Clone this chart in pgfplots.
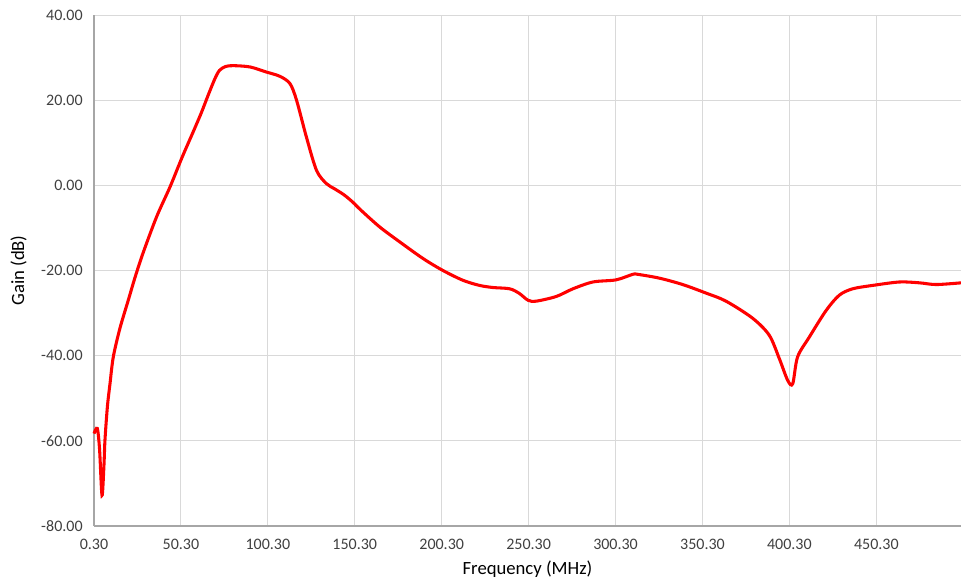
\documentclass[border=0pt]{standalone}
\usepackage{pgfplots}
\pgfplotsset{compat=1.18}
\usepackage{fontspec}
\setmainfont{Carlito}
\definecolor{gridgray}{HTML}{D9D9D9}
\definecolor{axisgray}{HTML}{A6A6A6}
\definecolor{txt}{HTML}{404040}

\pgfplotstableread{
f g
0.3 -58.3
2.2 -57.1
3.5 -62
4.9 -72.8
6.0 -66
6.6 -59.9
8.0 -52
9.5 -46.6
11.4 -40.3
15.2 -33.6
20.0 -27.0
24.0 -21.5
28.6 -15.8
36.3 -7.4
44.0 -0.4
51.0 6.6
57.4 12.6
62.0 17.0
66.0 21.2
69.8 25.0
72.5 27.0
76.0 27.9
80.4 28.1
90.0 27.8
99.5 26.6
107.2 25.6
113.0 23.9
116.8 20.0
122.5 11.3
128.3 3.5
134.0 0.4
139.0 -0.9
144.0 -2.2
149.0 -3.9
154.0 -5.9
164.7 -9.8
176.2 -13.3
189.6 -17.2
201.0 -20.0
212.5 -22.3
222.0 -23.5
229.8 -24.0
239.4 -24.3
245.0 -25.4
250.0 -27.0
254.7 -27.2
266.2 -26.1
275.8 -24.3
287.3 -22.7
300.6 -22.2
310.2 -20.9
313.0 -20.9
325.5 -21.8
338.9 -23.3
352.3 -25.3
363.8 -27.2
379.1 -31.2
388.7 -35.2
394.5 -40.7
399.3 -45.8
402.2 -46.6
405.0 -40.3
411.8 -35.6
421.4 -29.4
429.0 -25.8
436.7 -24.3
448.3 -23.5
463.6 -22.7
475.1 -22.9
484.7 -23.3
499.0 -22.9
}\gaindata

\begin{document}
\begin{tikzpicture}[x=1pt,y=1pt]
\begin{axis}[
  scale only axis,
  width=650.25pt, height=383.25pt,
  xmin=0.3, xmax=499,
  ymin=-80, ymax=40,
  xtick={0.3,50.3,100.3,150.3,200.3,250.3,300.3,350.3,400.3,450.3},
  ytick={-80,-60,-40,-20,0,20,40},
  axis x line*=bottom, axis y line*=left,
  axis line style={axisgray, line width=0.8pt, -},
  grid=major,
  major grid style={gridgray, line width=0.7pt},
  major tick length=0pt,
  tick label style={font=\fontsize{12pt}{14pt}\selectfont, text=txt},
  /pgf/number format/.cd, fixed, fixed zerofill, precision=2, assume math mode=true,
  /pgfplots/.cd,
  xticklabel style={yshift=-6pt},
  yticklabel style={xshift=-5pt},
  xlabel={Frequency (MHz)},
  ylabel={Gain (dB)},
  label style={font=\fontsize{14pt}{16pt}\selectfont, text=black},
  xlabel style={yshift=-2pt},
  ylabel style={yshift=4pt},
  clip=false,
]
\addplot[red, line width=2.3pt, smooth, tension=0.5] table[x=f, y=g] {\gaindata};
\end{axis}
\pgfresetboundingbox
\path[use as bounding box] ([xshift=-70.5pt,yshift=-43.5pt]current axis.south west) rectangle ([yshift=11.25pt]current axis.north east);
\end{tikzpicture}
\end{document}
